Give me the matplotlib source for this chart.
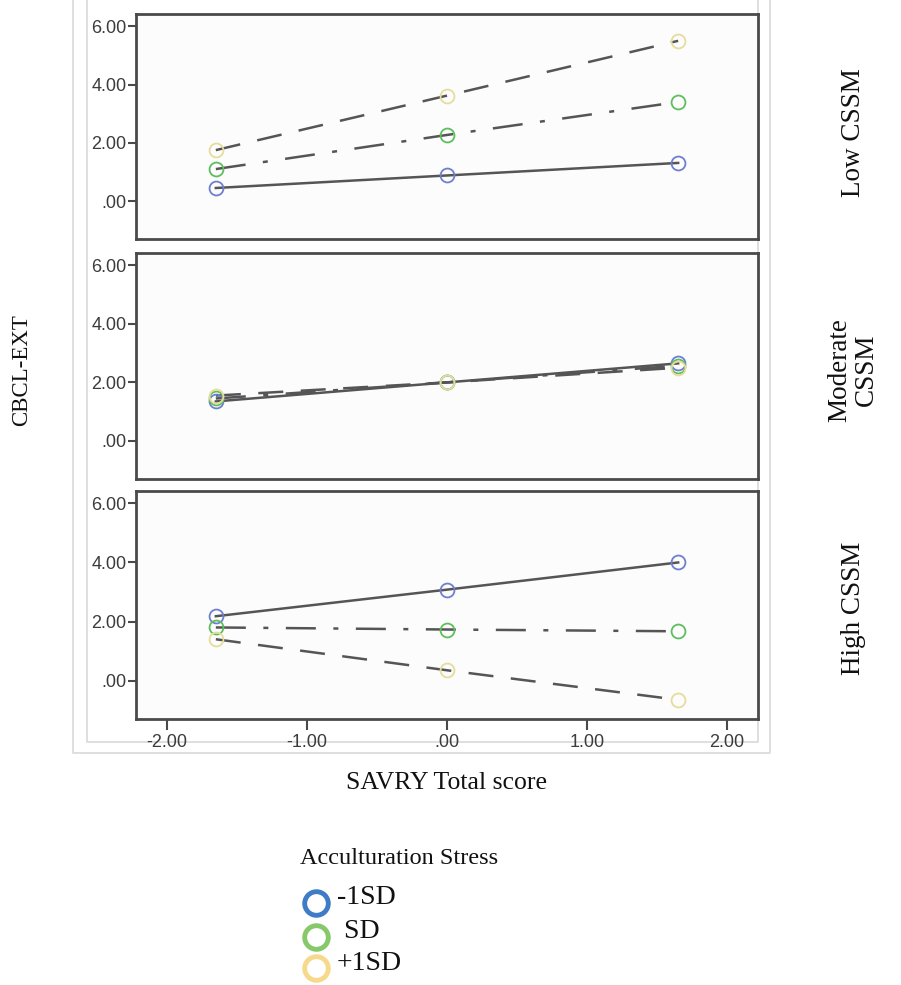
import matplotlib
matplotlib.use("Agg")
import matplotlib.pyplot as plt
from matplotlib.lines import Line2D

# ---- data ----
x_points = [-1.65, 0.0, 1.65]
panels = ["Low CSSM", "Moderate\nCSSM", "High CSSM"]
series = ["-1SD", "SD", "+1SD"]
low_minus = [0.45, 0.88, 1.31]
low_mid = [1.10, 2.27, 3.40]
low_plus = [1.75, 3.62, 5.50]
mod_minus = [1.35, 2.00, 2.65]
mod_mid = [1.45, 2.00, 2.57]
mod_plus = [1.55, 2.00, 2.50]
high_minus = [2.18, 3.08, 4.00]
high_mid = [1.80, 1.73, 1.67]
high_plus = [1.40, 0.35, -0.65]
y_ticks = [0, 2, 4, 6]
y_ticklabels = [".00", "2.00", "4.00", "6.00"]
x_ticks = [-2, -1, 0, 1, 2]
x_ticklabels = ["-2.00", "-1.00", ".00", "1.00", "2.00"]

panel_data = [
    [low_minus, low_mid, low_plus],
    [mod_minus, mod_mid, mod_plus],
    [high_minus, high_mid, high_plus],
]

marker_colors = ["#6f7fd0", "#5cbf5c", "#e6dc9c"]
legend_colors = ["#3f7cc8", "#86c86a", "#f6d98a"]
line_styles = ["-", (0, (12, 7, 2, 7)), (0, (10, 7))]

W, H = 901, 985
fig = plt.figure(figsize=(W / 100, H / 100), dpi=100)

serif = ["Liberation Serif", "DejaVu Serif"]
sans = ["Liberation Sans", "DejaVu Sans"]


def fx(px):
    return px / W


def fy(py):
    return 1 - py / H


# faint frame lines (behind everything)
for (x0, x1, y1) in [(87, 758, 742), (73, 770, 753)]:
    fig.add_artist(Line2D([fx(x0), fx(x0), fx(x1), fx(x1)],
                          [fy(0), fy(y1), fy(y1), fy(0)],
                          color="#d9d9d9", lw=1.2, zorder=-5))

boxes = [(14, 239), (253, 479), (491, 719)]
label_y = [133, 370, 608]
for i, (top, bot) in enumerate(boxes):
    ax = fig.add_axes([fx(136), fy(bot), fx(758) - fx(136), (bot - top) / H])
    ax.set_facecolor("#fcfcfc")
    for s in ax.spines.values():
        s.set_color("#4a4a4a")
        s.set_linewidth(2)
    for j, vals in enumerate(panel_data[i]):
        ax.plot(x_points, vals, linestyle=line_styles[j], color="#555555",
                lw=1.8, zorder=2)
        ax.plot(x_points, vals, linestyle="none", marker="o", ms=10,
                mfc="none", mec=marker_colors[j], mew=1.3, zorder=3)
    ax.set_xlim(-2.22, 2.22)
    ax.set_ylim(-1.3, 6.42)
    ax.set_yticks(y_ticks)
    ax.set_yticklabels(y_ticklabels, fontsize=13, color="#3c3c3c",
                       family=sans)
    ax.tick_params(axis="y", length=6, width=1.5, color="#4a4a4a", pad=1)
    if i == 2:
        ax.set_xticks(x_ticks)
        ax.set_xticklabels(x_ticklabels, fontsize=13, color="#3c3c3c",
                           family=sans)
        ax.tick_params(axis="x", length=8, width=1.5, color="#4a4a4a", pad=3)
    else:
        ax.set_xticks([])
    fig.text(fx(853), fy(label_y[i]), panels[i], rotation=90, ha="center",
             va="center", fontsize=19.5, family=serif, color="#111111",
             linespacing=1.05)

fig.text(fx(22), fy(370), "CBCL-EXT", rotation=90, ha="center", va="center",
         fontsize=16.5, family=serif, color="#111111")
fig.text(fx(446), fy(783), "SAVRY Total score", ha="center", va="center",
         fontsize=18.5, family=serif, color="#111111")

# legend
fig.text(fx(300), fy(858), "Acculturation Stress", ha="left", va="center",
         fontsize=17.5, family=serif, color="#111111")
leg_y = [903, 937, 968]
leg_lab = ["-1SD", " SD", "+1SD"]
lax = fig.add_axes([0, 0, 1, 1], facecolor="none")
lax.set_xlim(0, W)
lax.set_ylim(H, 0)
lax.axis("off")
for k in range(3):
    lax.plot([316], [leg_y[k]], marker="o", ms=17, mfc="none",
             mec=legend_colors[k], mew=3.5)
    lax.text(337, leg_y[k] - 5, leg_lab[k], ha="left", va="center",
             fontsize=20, family=serif, color="#111111")

fig.savefig("out.png", dpi=100)
